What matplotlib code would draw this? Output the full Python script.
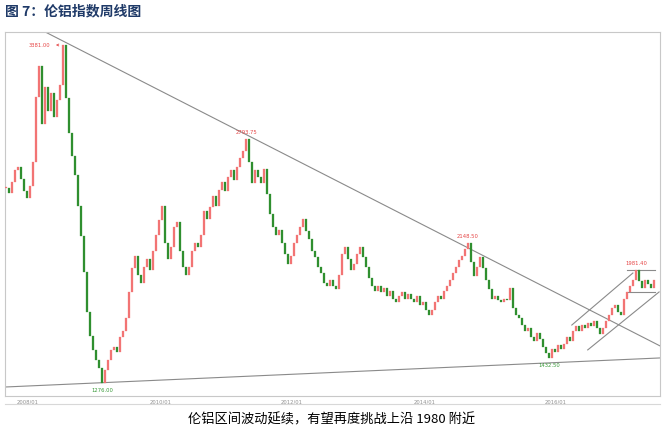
import numpy as np
import pandas as pd
import matplotlib
matplotlib.use("Agg")
import matplotlib.pyplot as plt
import matplotlib.dates as mdates
from matplotlib.lines import Line2D

plt.rcParams['font.family'] = ['Noto Sans CJK SC', 'DejaVu Sans']

# ---------------- data ----------------
start_date = '2007-09-01'
end_date = '2017-06-26'
closes = [
    2490, 2460, 2530, 2600, 2620, 2545, 2470, 2430, 2500, 2650,
    3060, 3250, 2890, 3120, 2970, 3080, 2930, 3040, 3130, 3381,
    3050, 2830, 2690, 2570, 2380, 2190, 1970, 1720, 1570, 1480,
    1420, 1370, 1276, 1360, 1420, 1480, 1500, 1470, 1560, 1600,
    1680, 1840, 1990, 2070, 1950, 1900, 2000, 2050, 1980, 2100,
    2200, 2290, 2380, 2150, 2050, 2120, 2250, 2280, 2100, 2000,
    1950, 2000, 2100, 2150, 2120, 2200, 2350, 2300, 2370, 2440,
    2380, 2480, 2530, 2470, 2560, 2600, 2540, 2620, 2680, 2720,
    2793.75, 2650, 2520, 2600, 2560, 2520, 2610, 2450, 2330, 2250,
    2200, 2230, 2150, 2080, 2020, 2070, 2150, 2200, 2250, 2300,
    2220, 2170, 2100, 2060, 2000, 1960, 1900, 1880, 1920, 1880,
    1860, 1950, 2080, 2120, 2050, 1980, 2020, 2080, 2120, 2060,
    2000, 1930, 1880, 1850, 1880, 1840, 1870, 1820, 1850, 1800,
    1780, 1820, 1840, 1800, 1830, 1800, 1780, 1820, 1760, 1780,
    1730, 1700, 1730, 1780, 1820, 1800, 1850, 1880, 1920, 1960,
    2000, 2040, 2070, 2110, 2148.5, 2030, 1940, 2000, 2060, 1990,
    1920, 1860, 1800, 1820, 1790, 1780, 1800, 1790, 1870, 1740,
    1700, 1680, 1640, 1600, 1620, 1560, 1540, 1590, 1550, 1500,
    1460, 1432.5, 1490, 1470, 1510, 1490, 1520, 1560, 1540, 1600,
    1630, 1600, 1640, 1620, 1650, 1630, 1660, 1620, 1580, 1620,
    1660, 1700, 1740, 1760, 1720, 1700, 1800, 1840, 1880, 1920,
    1981.4, 1910, 1870, 1920, 1890, 1870, 1920,
]
tick_years = [2008, 2010, 2012, 2014, 2016]
tick_labels = ['2008/01', '2010/01', '2012/01', '2014/01', '2016/01']
marks = ['3381.00', '2793.75', '2148.50', '1276.00', '1432.50', '1981.40']
mark_values = [3381.0, 2793.75, 2148.5, 1276.0, 1432.5, 1981.4]
mark_kind = ['high', 'high', 'high', 'low', 'low', 'high']

# trend lines (date, price) pairs
down_line = [('2008-04-05', 3462), ('2017-07-29', 1507)]
support_line = [('2007-08-26', 1251), ('2017-07-29', 1432)]
chan_upper = [('2016-03-28', 1637), ('2017-03-01', 1961)]
chan_lower = [('2016-06-24', 1482), ('2017-07-24', 1843)]
box_top = [('2017-01-30', 1981.4), ('2017-06-30', 1981.4)]
box_bottom = [('2017-01-30', 1843), ('2017-06-30', 1843)]

# ---------------- figure ----------------
W, H = 666, 429
fig = plt.figure(figsize=(W / 100, H / 100), dpi=100)
ax = fig.add_axes([5 / W, 1 - 396 / H, 655 / W, 364 / H])

dates = pd.date_range(start_date, end_date, periods=len(closes))
xd = mdates.date2num(dates.to_pydatetime())
c = np.array(closes, dtype=float)
o = np.concatenate([[c[0]], c[:-1]])
up = c >= o
red = '#f27474'
green = '#2f8f2f'
cols = np.where(up, red, green)
body = np.where(np.abs(c - o) < 5, 5, c - o)
ax.bar(xd, body, bottom=o, width=8, color=cols, edgecolor=cols, linewidth=0.2, zorder=3)

def seg(pair, **kw):
    xs = mdates.date2num([pd.Timestamp(p[0]) for p in pair])
    ys = [p[1] for p in pair]
    ax.plot(xs, ys, **kw)

lkw = dict(color='#8a8a8a', lw=0.8, zorder=2)
seg(down_line, **lkw)
seg(support_line, **lkw)
seg(chan_upper, **lkw)
seg(chan_lower, **lkw)
seg(box_top, **lkw)
seg(box_bottom, **lkw)

# labels on extremes
for txt, v, kind in zip(marks, mark_values, mark_kind):
    i = int(np.argmin(np.abs(c - v)))
    if txt == '3381.00':
        ax.annotate(txt, xy=(xd[i] - 8, v), xytext=(xd[i] - 130, v),
                    fontsize=3.8, color='#e64646', va='center', ha='center',
                    family='DejaVu Sans',
                    arrowprops=dict(arrowstyle='<-', color='#e64646', lw=0.5))
    elif kind == 'high':
        ax.text(xd[i], v + 25, txt, fontsize=3.8, color='#e64646', ha='center',
                va='bottom', family='DejaVu Sans')
    else:
        ax.text(xd[i], v - 30, txt, fontsize=3.8, color='#3a9a3a', ha='center',
                va='top', family='DejaVu Sans')

ax.set_xlim(mdates.date2num(pd.Timestamp('2007-08-26')), mdates.date2num(pd.Timestamp('2017-07-29')))
ax.set_ylim(1195, 3462)
ax.set_xticks(mdates.date2num([pd.Timestamp(f'{y}-01-01') for y in tick_years]))
ax.set_xticklabels(tick_labels)
ax.tick_params(axis='x', length=0, pad=2.5, labelsize=3.8, labelcolor='#909090')
ax.set_yticks([])
for s in ax.spines.values():
    s.set_color('#c8c8c8')
    s.set_linewidth(0.8)
for lab in ax.get_xticklabels():
    lab.set_family('DejaVu Sans')

fig.add_artist(Line2D([5 / W, 660 / W], [1 - 404 / H] * 2, color='#d8d8d8', lw=0.8))

fig.text(5 / W, 1 - 11 / H, '图 7：伦铝指数周线图', fontsize=10, fontweight='bold',
         color='#1f3a68', ha='left', va='center')
fig.text(332 / W, 1 - 420 / H, '伦铝区间波动延续，有望再度挑战上沿 1980 附近',
         fontsize=9.5, color='black', ha='center', va='center')

fig.savefig('out.png', dpi=100)
